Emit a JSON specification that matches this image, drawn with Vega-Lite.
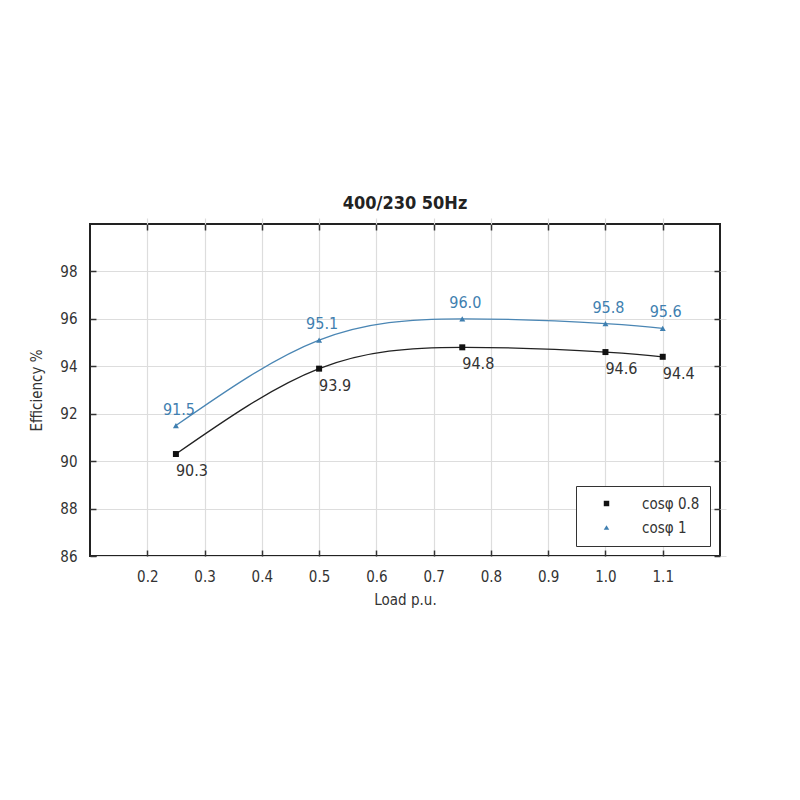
{
  "$schema": "https://vega.github.io/schema/vega-lite/v6.json",
  "width": 630,
  "height": 332,
  "autosize": {"type": "none"},
  "padding": {"left": 90, "top": 224, "right": 80, "bottom": 244},
  "background": "white",
  "config": {
    "font": "DejaVu Sans Condensed",
    "view": {"stroke": "#222", "strokeWidth": 2},
    "axis": {"labelFont": "DejaVu Sans Condensed", "titleFont": "DejaVu Sans Condensed", "labelColor": "#333", "titleColor": "#333", "labelFontSize": 15, "titleFontSize": 15, "titleFontWeight": "normal", "gridColor": "#dddddd", "gridWidth": 1.2, "domain": false, "tickColor": "#333", "tickSize": 6, "tickWidth": 1.5, "offset": -6}
  },
  "title": {"text": "400/230 50Hz", "fontSize": 18, "font": "DejaVu Sans Condensed", "fontWeight": "bold", "color": "#222", "offset": 10},
  "data": {"values": [
    {"load": 0.25, "eff": 90.3, "series": "cosφ 0.8", "label": "90.3"},
    {"load": 0.5, "eff": 93.9, "series": "cosφ 0.8", "label": "93.9"},
    {"load": 0.75, "eff": 94.8, "series": "cosφ 0.8", "label": "94.8"},
    {"load": 1.0, "eff": 94.6, "series": "cosφ 0.8", "label": "94.6"},
    {"load": 1.1, "eff": 94.4, "series": "cosφ 0.8", "label": "94.4"},
    {"load": 0.25, "eff": 91.5, "series": "cosφ 1", "label": "91.5"},
    {"load": 0.5, "eff": 95.1, "series": "cosφ 1", "label": "95.1"},
    {"load": 0.75, "eff": 96.0, "series": "cosφ 1", "label": "96.0"},
    {"load": 1.0, "eff": 95.8, "series": "cosφ 1", "label": "95.8"},
    {"load": 1.1, "eff": 95.6, "series": "cosφ 1", "label": "95.6"}
  ]},
  "resolve": {"axis": {"x": "independent", "y": "independent"}},
  "layer": [
    {
      "transform": [{"filter": "datum.series === 'cosφ 0.8'"}],
      "mark": {"type": "line", "interpolate": "natural", "strokeWidth": 1.3, "color": "#222222"},
      "encoding": {
        "x": {"field": "load", "type": "quantitative", "scale": {"domain": [0.1, 1.2], "nice": false},
              "axis": {"title": "Load p.u.", "orient": "bottom", "values": [0.2, 0.3, 0.4, 0.5, 0.6, 0.7, 0.8, 0.9, 1.0, 1.1], "format": ".1f", "labelPadding": 13, "titlePadding": 8}},
        "y": {"field": "eff", "type": "quantitative", "scale": {"domain": [86, 100], "nice": false},
              "axis": {"title": "Efficiency %", "orient": "left", "values": [86, 88, 90, 92, 94, 96, 98], "labelPadding": 13, "titlePadding": 15}}
      }
    },
    {
      "transform": [{"filter": "datum.series === 'cosφ 1'"}],
      "mark": {"type": "line", "interpolate": "natural", "strokeWidth": 1.3, "color": "#4a86b4"},
      "encoding": {
        "x": {"field": "load", "type": "quantitative", "axis": null},
        "y": {"field": "eff", "type": "quantitative", "axis": null}
      }
    },
    {
      "mark": {"type": "point", "filled": true, "opacity": 1, "size": 36},
      "encoding": {
        "x": {"field": "load", "type": "quantitative", "axis": {"orient": "top", "labels": false, "title": null, "grid": false, "values": [0.2, 0.3, 0.4, 0.5, 0.6, 0.7, 0.8, 0.9, 1.0, 1.1]}},
        "y": {"field": "eff", "type": "quantitative", "axis": {"orient": "right", "labels": false, "title": null, "grid": false, "values": [86, 88, 90, 92, 94, 96, 98]}},
        "color": {"field": "series", "type": "nominal", "scale": {"domain": ["cosφ 0.8", "cosφ 1"], "range": ["#111111", "#3f7fb0"]},
                  "legend": {"title": null, "orient": "bottom-right", "offset": 10, "strokeColor": "#333", "fillColor": "white", "padding": 10, "labelFontSize": 15, "labelColor": "#333", "labelFont": "DejaVu Sans Condensed", "symbolSize": 30, "rowPadding": 8, "labelOffset": 28, "symbolOffset": 13}},
        "shape": {"field": "series", "type": "nominal", "scale": {"domain": ["cosφ 0.8", "cosφ 1"], "range": ["square", "triangle-up"]}}
      }
    },
    {
      "transform": [{"filter": "datum.series === 'cosφ 0.8'"}],
      "mark": {"type": "text", "align": "left", "baseline": "middle", "dx": 0, "dy": 17, "fontSize": 16, "color": "#333"},
      "encoding": {
        "x": {"field": "load", "type": "quantitative", "axis": null},
        "y": {"field": "eff", "type": "quantitative", "axis": null},
        "text": {"field": "label"}
      }
    },
    {
      "transform": [{"filter": "datum.series === 'cosφ 1'"}],
      "mark": {"type": "text", "align": "center", "baseline": "middle", "dx": 3, "dy": -16, "fontSize": 16, "color": "#3f7fb0"},
      "encoding": {
        "x": {"field": "load", "type": "quantitative", "axis": null},
        "y": {"field": "eff", "type": "quantitative", "axis": null},
        "text": {"field": "label"}
      }
    }
  ]
}
